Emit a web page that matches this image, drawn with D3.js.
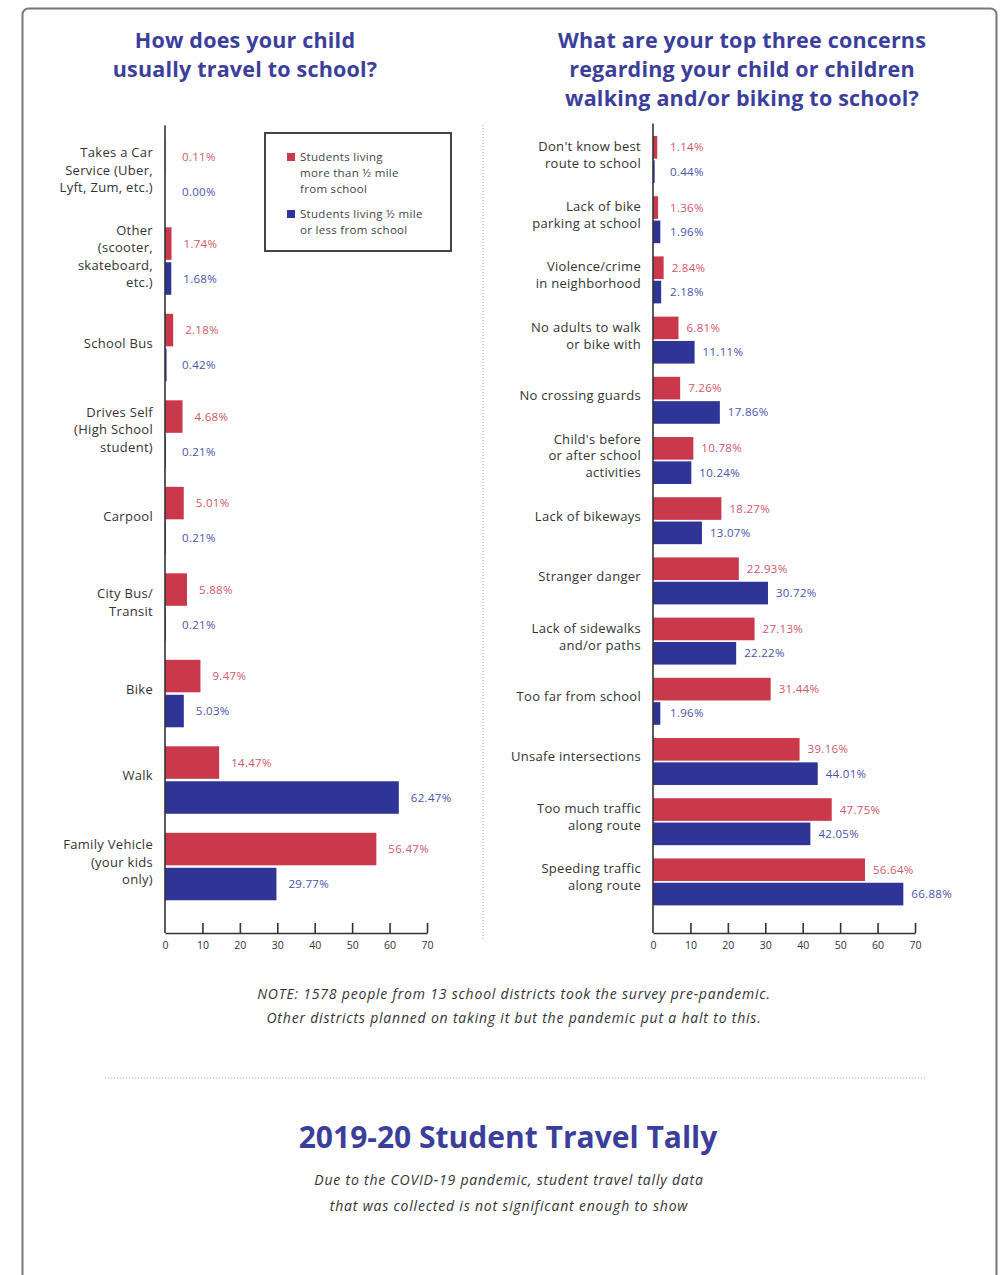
<!DOCTYPE html>
<html>
<head>
<meta charset="utf-8">
<script src="https://cdn.jsdelivr.net/npm/d3@7"></script>
<style>
  body { margin: 0; background: #ffffff; }
  svg { display: block; font-family: "Open Sans", Lato, sans-serif; }
</style>
</head>
<body>
<svg id="chart" width="1006" height="1275"></svg>
<script>
// Datos: como viaja el alumno a la escuela
var travelCats = [
    "Takes a Car\nService (Uber,\nLyft, Zum, etc.)",
    "Other\n(scooter,\nskateboard,\netc.)",
    "School Bus",
    "Drives Self\n(High School\nstudent)",
    "Carpool",
    "City Bus/\nTransit",
    "Bike",
    "Walk",
    "Family Vehicle\n(your kids\nonly)"
];
var travelFar  = [0.11, 1.74, 2.18, 4.68, 5.01, 5.88, 9.47, 14.47, 56.47];
var travelNear = [0.00, 1.68, 0.42, 0.21, 0.21, 0.21, 5.03, 62.47, 29.77];

// Datos: preocupaciones principales
var concernCats = [
    "Don't know best\nroute to school",
    "Lack of bike\nparking at school",
    "Violence/crime\nin neighborhood",
    "No adults to walk\nor bike with",
    "No crossing guards",
    "Child's before\nor after school\nactivities",
    "Lack of bikeways",
    "Stranger danger",
    "Lack of sidewalks\nand/or paths",
    "Too far from school",
    "Unsafe intersections",
    "Too much traffic\nalong route",
    "Speeding traffic\nalong route"
];
var concernFar  = [1.14, 1.36, 2.84, 6.81, 7.26, 10.78, 18.27, 22.93, 27.13, 31.44, 39.16, 47.75, 56.64];
var concernNear = [0.44, 1.96, 2.18, 11.11, 17.86, 10.24, 13.07, 30.72, 22.22, 1.96, 44.01, 42.05, 66.88];

var xTicks = [0, 10, 20, 30, 40, 50, 60, 70];
var seriesNames = ["far", "near"];
var legendLabels = [
    "Students living\nmore than \u00bd mile\nfrom school",
    "Students living \u00bd mile\nor less from school"
];

var RED = "#c9394b", BLUE = "#2f3596";
var RED_TXT = "#d2566a", BLUE_TXT = "#4a52ad";
var TITLE = "#3c3e9c";

var svg = d3.select("#chart");

// Marc exterior
svg.append("rect").attr("x", 22.5).attr("y", 8.5).attr("width", 974).attr("height", 1300)
    .attr("rx", 6).attr("fill", "white").attr("stroke", "#777").attr("stroke-width", 2);

function multiline(sel, text, lineH) {
    var lines = text.split("\n");
    lines.forEach(function (l, i) {
        sel.append("tspan").attr("x", sel.attr("x"))
            .attr("dy", i == 0 ? (-(lines.length - 1) / 2 * lineH) + "px" : lineH + "px")
            .text(l);
    });
}

function title(x, y, text) {
    var t = svg.append("text").attr("x", x).attr("y", y).attr("text-anchor", "middle")
        .attr("fill", TITLE).style("font-size", "21.5px").style("font-weight", "bold")
        .style("letter-spacing", "0.2px");
    text.split("\n").forEach(function (l, i) {
        t.append("tspan").attr("x", x).attr("dy", i == 0 ? 0 : 29).text(l);
    });
}

// Dibuixa un grafic de barres horitzontals agrupades
function barChart(x0, top, bottom, cats, far, near, lineH, labelGap) {
    var x = d3.scaleLinear().domain([0, 70]).range([x0, x0 + 262]);
    var y = d3.scaleBand().domain(cats).range([top, bottom]).paddingInner(0.22).paddingOuter(0.11);
    var ySub = d3.scaleBand().domain(seriesNames).range([0, y.bandwidth()]).paddingInner(0.07);
    var g = svg.append("g");

    var data = cats.map(function (c, i) { return { cat: c, far: far[i], near: near[i] }; });

    var grp = g.selectAll("g.cat").data(data).enter().append("g").attr("class", "cat")
        .attr("transform", function (d) { return "translate(0," + y(d.cat) + ")"; });

    grp.selectAll("rect").data(function (d) {
        return seriesNames.map(function (s) { return { s: s, v: d[s] }; });
    }).enter().append("rect")
        .attr("x", x(0))
        .attr("y", function (d) { return ySub(d.s); })
        .attr("width", function (d) { return x(d.v) - x(0); })
        .attr("height", ySub.bandwidth())
        .attr("fill", function (d) { return d.s == "far" ? RED : BLUE; });

    grp.selectAll("text.val").data(function (d) {
        return seriesNames.map(function (s) { return { s: s, v: d[s] }; });
    }).enter().append("text").attr("class", "val")
        .attr("x", function (d) { return Math.max(x(d.v) + labelGap, x(0) + 17); })
        .attr("y", function (d) { return ySub(d.s) + ySub.bandwidth() / 2; })
        .attr("dy", "0.35em")
        .attr("fill", function (d) { return d.s == "far" ? RED_TXT : BLUE_TXT; })
        .style("font-size", "11.5px").style("letter-spacing", "0.3px")
        .text(function (d) { return d.v.toFixed(2) + "%"; });

    grp.append("text").attr("class", "cat-label")
        .attr("x", x(0) - 12).attr("y", y.bandwidth() / 2).attr("dy", "0.35em")
        .attr("text-anchor", "end").attr("fill", "#333")
        .style("font-size", "13px").style("letter-spacing", "0.3px")
        .each(function (d) { multiline(d3.select(this), d.cat, lineH); });

    // Eixos
    g.append("line").attr("x1", x(0)).attr("x2", x(0)).attr("y1", top - 6).attr("y2", 933)
        .attr("stroke", "#333").attr("stroke-width", 1.6);
    var axis = d3.axisBottom(x).tickValues(xTicks).tickSize(-10).tickPadding(9).tickSizeOuter(0);
    var ax = g.append("g").attr("transform", "translate(0,933)").call(axis);
    ax.select(".domain").attr("stroke", "#333").attr("stroke-width", 1.6);
    ax.selectAll(".tick line").attr("stroke", "#333").attr("stroke-width", 1.6)
        .filter(function (d) { return d == 0; }).remove();
    ax.selectAll(".tick text").attr("fill", "#333").style("font-size", "10.5px")
        .style("font-family", "'Open Sans', sans-serif");
}

title(245, 48, "How does your child\nusually travel to school?");
title(742, 48, "What are your top three concerns\nregarding your child or children\nwalking and/or biking to school?");

barChart(165, 131.3, 909.8, travelCats, travelFar, travelNear, 17.5, 12);
barChart(653, 129.4, 912, concernCats, concernFar, concernNear, 17, 8);

// Llegenda
var legend = svg.append("g");
legend.append("rect").attr("x", 265).attr("y", 133).attr("width", 186).attr("height", 118)
    .attr("fill", "white").attr("stroke", "#444").attr("stroke-width", 2);
var legY = [157, 214];
legendLabels.forEach(function (lab, i) {
    legend.append("rect").attr("x", 287).attr("y", legY[i] - 4).attr("width", 8).attr("height", 8)
        .attr("fill", i == 0 ? RED : BLUE);
    var t = legend.append("text").attr("x", 300).attr("y", legY[i])
        .attr("fill", "#444").style("font-size", "11.5px").style("letter-spacing", "0.3px");
    lab.split("\n").forEach(function (l, j) {
        t.append("tspan").attr("x", 300).attr("dy", j == 0 ? "0.35em" : "16px").text(l);
    });
});

// Separadors puntejats
svg.append("line").attr("x1", 483).attr("x2", 483).attr("y1", 125).attr("y2", 940)
    .attr("stroke", "#aaa").attr("stroke-width", 1).attr("stroke-dasharray", "1,2");
svg.append("line").attr("x1", 105).attr("x2", 925).attr("y1", 1078).attr("y2", 1078)
    .attr("stroke", "#aaa").attr("stroke-width", 1).attr("stroke-dasharray", "1,2");

// Notes
var note = svg.append("text").attr("text-anchor", "middle").attr("fill", "#333")
    .style("font-size", "14px").style("font-style", "italic").style("letter-spacing", "0.8px");
note.append("tspan").attr("x", 514).attr("y", 999)
    .text("NOTE: 1578 people from 13 school districts took the survey pre-pandemic.");
note.append("tspan").attr("x", 514).attr("y", 1023)
    .text("Other districts planned on taking it but the pandemic put a halt to this.");

svg.append("text").attr("x", 508).attr("y", 1148).attr("text-anchor", "middle")
    .attr("fill", TITLE).style("font-size", "30px").style("font-weight", "bold")
    .text("2019-20 Student Travel Tally");

var sub = svg.append("text").attr("text-anchor", "middle").attr("fill", "#333")
    .style("font-size", "14px").style("font-style", "italic").style("letter-spacing", "0.8px");
sub.append("tspan").attr("x", 509).attr("y", 1185)
    .text("Due to the COVID-19 pandemic, student travel tally data");
sub.append("tspan").attr("x", 509).attr("y", 1211)
    .text("that was collected is not significant enough to show");
</script>
</body>
</html>
